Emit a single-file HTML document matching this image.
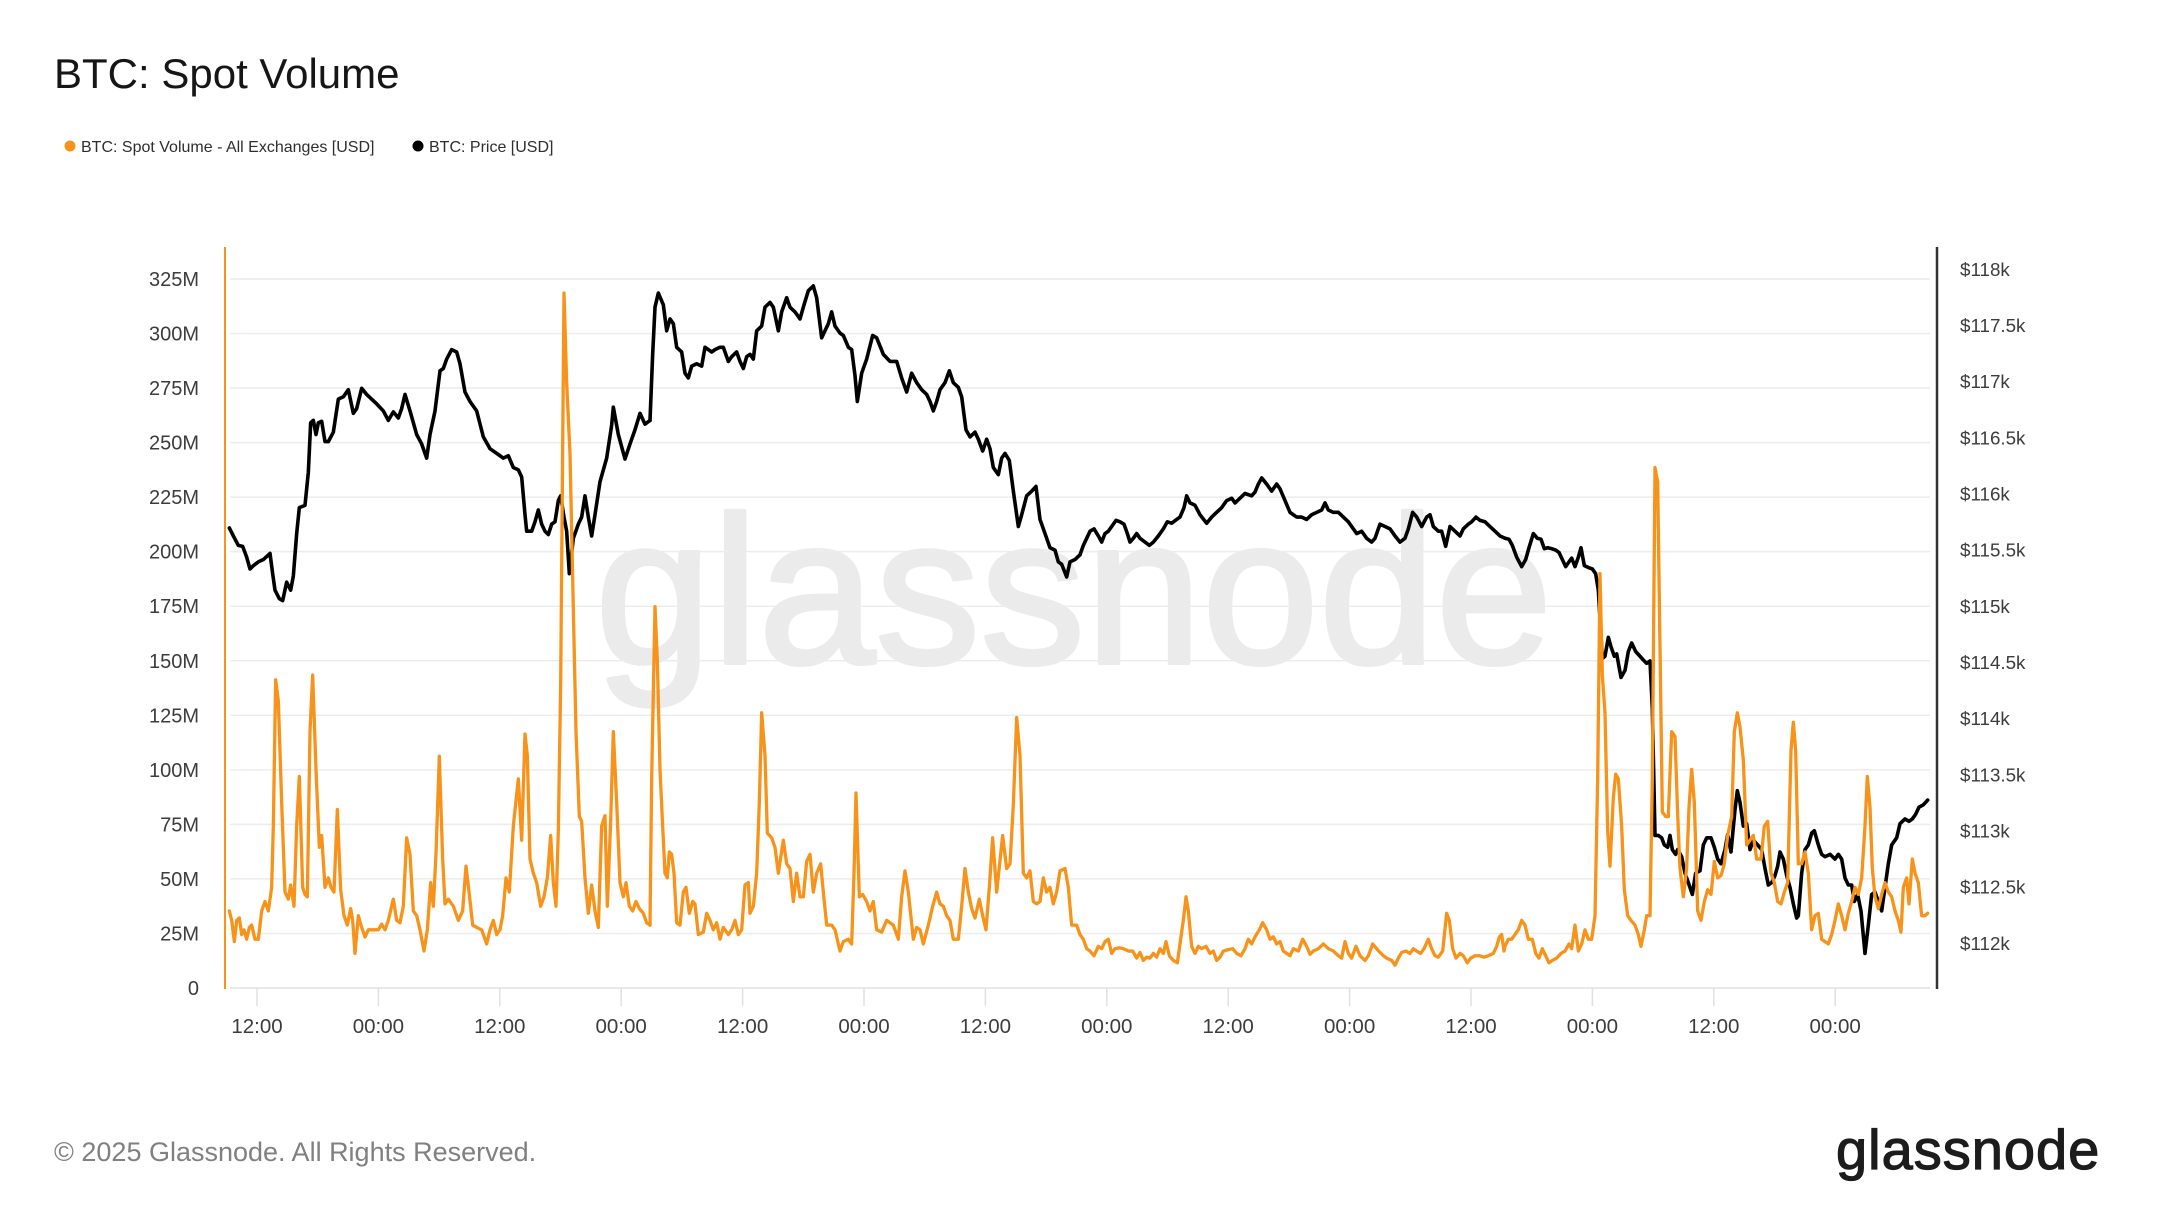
<!DOCTYPE html>
<html>
<head>
<meta charset="utf-8">
<style>
  html,body{margin:0;padding:0;background:#fff;}
  body{width:2160px;height:1215px;overflow:hidden;}
  svg{display:block;font-family:"Liberation Sans",Arial,sans-serif;}
</style>
</head>
<body>
<svg width="2160" height="1215" viewBox="0 0 2160 1215" xmlns="http://www.w3.org/2000/svg">
  <rect width="2160" height="1215" fill="#ffffff"/>

  <!-- Title -->
  <text x="54" y="88" font-size="42" fill="#161616">BTC: Spot Volume</text>

  <!-- Legend -->
  <circle cx="70" cy="146" r="5.5" fill="#f7931a"/>
  <text x="81" y="152" font-size="16" fill="#2e2e2e">BTC: Spot Volume - All Exchanges [USD]</text>
  <circle cx="418" cy="146" r="5.5" fill="#000"/>
  <text x="429" y="152" font-size="16" fill="#2e2e2e">BTC: Price [USD]</text>

  <!-- Watermark -->
  <text x="595" y="663" font-size="210" fill="#ebebeb" stroke="#ebebeb" stroke-width="4" stroke-linejoin="round">glassnode</text>

  <!-- Gridlines -->
  <g stroke="#ececec" stroke-width="1.5">
    <line x1="230" x2="1930" y1="278.98" y2="278.98"/>
    <line x1="230" x2="1930" y1="333.52" y2="333.52"/>
    <line x1="230" x2="1930" y1="388.06" y2="388.06"/>
    <line x1="230" x2="1930" y1="442.6" y2="442.6"/>
    <line x1="230" x2="1930" y1="497.14" y2="497.14"/>
    <line x1="230" x2="1930" y1="551.68" y2="551.68"/>
    <line x1="230" x2="1930" y1="606.22" y2="606.22"/>
    <line x1="230" x2="1930" y1="660.76" y2="660.76"/>
    <line x1="230" x2="1930" y1="715.3" y2="715.3"/>
    <line x1="230" x2="1930" y1="769.84" y2="769.84"/>
    <line x1="230" x2="1930" y1="824.38" y2="824.38"/>
    <line x1="230" x2="1930" y1="878.92" y2="878.92"/>
    <line x1="230" x2="1930" y1="933.46" y2="933.46"/>
  </g>
  <line x1="230" x2="1930" y1="988" y2="988" stroke="#e0e0e0" stroke-width="1.5"/>

  <!-- X ticks -->
  <g stroke="#e0e0e0" stroke-width="1.5">
    <line x1="257" x2="257" y1="988" y2="1006"/>
    <line x1="378.4" x2="378.4" y1="988" y2="1006"/>
    <line x1="499.8" x2="499.8" y1="988" y2="1006"/>
    <line x1="621.2" x2="621.2" y1="988" y2="1006"/>
    <line x1="742.6" x2="742.6" y1="988" y2="1006"/>
    <line x1="864" x2="864" y1="988" y2="1006"/>
    <line x1="985.4" x2="985.4" y1="988" y2="1006"/>
    <line x1="1106.8" x2="1106.8" y1="988" y2="1006"/>
    <line x1="1228.2" x2="1228.2" y1="988" y2="1006"/>
    <line x1="1349.6" x2="1349.6" y1="988" y2="1006"/>
    <line x1="1471" x2="1471" y1="988" y2="1006"/>
    <line x1="1592.4" x2="1592.4" y1="988" y2="1006"/>
    <line x1="1713.8" x2="1713.8" y1="988" y2="1006"/>
    <line x1="1835.2" x2="1835.2" y1="988" y2="1006"/>
  </g>

  <!-- X labels -->
  <g font-size="20.5" fill="#3c3c3c" text-anchor="middle">
    <text x="257" y="1033">12:00</text>
    <text x="378.4" y="1033">00:00</text>
    <text x="499.8" y="1033">12:00</text>
    <text x="621.2" y="1033">00:00</text>
    <text x="742.6" y="1033">12:00</text>
    <text x="864" y="1033">00:00</text>
    <text x="985.4" y="1033">12:00</text>
    <text x="1106.8" y="1033">00:00</text>
    <text x="1228.2" y="1033">12:00</text>
    <text x="1349.6" y="1033">00:00</text>
    <text x="1471" y="1033">12:00</text>
    <text x="1592.4" y="1033">00:00</text>
    <text x="1713.8" y="1033">12:00</text>
    <text x="1835.2" y="1033">00:00</text>
  </g>

  <!-- Left Y labels -->
  <g font-size="20" fill="#3c3c3c" text-anchor="end">
    <text x="199" y="286">325M</text>
    <text x="199" y="340.5">300M</text>
    <text x="199" y="395">275M</text>
    <text x="199" y="449.6">250M</text>
    <text x="199" y="504.1">225M</text>
    <text x="199" y="558.7">200M</text>
    <text x="199" y="613.2">175M</text>
    <text x="199" y="667.8">150M</text>
    <text x="199" y="722.3">125M</text>
    <text x="199" y="776.8">100M</text>
    <text x="199" y="831.4">75M</text>
    <text x="199" y="885.9">50M</text>
    <text x="199" y="940.5">25M</text>
    <text x="199" y="995">0</text>
  </g>

  <!-- Right Y labels -->
  <g font-size="18.8" fill="#3c3c3c">
    <text x="1960" y="275.8">$118k</text>
    <text x="1960" y="332">$117.5k</text>
    <text x="1960" y="388.1">$117k</text>
    <text x="1960" y="444.3">$116.5k</text>
    <text x="1960" y="500.5">$116k</text>
    <text x="1960" y="556.7">$115.5k</text>
    <text x="1960" y="612.8">$115k</text>
    <text x="1960" y="669">$114.5k</text>
    <text x="1960" y="725.2">$114k</text>
    <text x="1960" y="781.3">$113.5k</text>
    <text x="1960" y="837.5">$113k</text>
    <text x="1960" y="893.7">$112.5k</text>
    <text x="1960" y="949.8">$112k</text>
  </g>

  <!-- Axes -->
  <line x1="225" x2="225" y1="247" y2="989" stroke="#f7931a" stroke-width="2"/>
  <line x1="1937" x2="1937" y1="247" y2="989" stroke="#333" stroke-width="2.5"/>

  <!-- Price (black) -->
  <g fill="none" stroke="#000" stroke-width="3.6" stroke-linejoin="round" stroke-linecap="round">
    <polyline vector-effect="non-scaling-stroke" transform="translate(220,260) scale(0.33333,0.4717)" points="28,568 40,585 55,605 68,607 80,630 90,655 100,648 115,640 130,635 150,622 158,665 165,700 178,718 188,722 200,683 212,700 220,670 230,580 238,525 255,520 265,450 272,345 280,340 288,370 295,345 305,342 315,385 325,385 340,365 355,295 370,290 385,275 400,325 410,315 425,272 440,285 455,295 470,305 490,320 505,340 520,322 535,335 545,315 555,285 570,320 590,370 605,390 620,420 630,370 645,320 660,235 670,230 680,210 695,190 710,195 720,220 735,280 750,300 770,320 790,375 810,400 830,410 850,420 865,415 880,440 895,445 905,460 915,540 920,575 935,575 945,555 955,530 965,560 975,575 985,582 995,560 1005,555 1015,510 1022,500 1032,545 1040,575 1048,665 1060,590 1075,560 1085,545 1095,500 1105,545 1115,585 1125,540 1140,470 1160,420 1175,350 1180,312 1195,370 1215,422 1230,390 1245,360 1260,325 1275,348 1290,340"/>
    <polyline vector-effect="non-scaling-stroke" transform="translate(650,260) scale(0.33333,0.4717)" points="0,340 8,200 15,100 25,70 40,95 50,150 60,125 70,135 80,185 95,195 105,240 115,250 125,225 140,220 155,225 165,185 175,190 185,195 195,190 210,185 220,185 235,215 245,205 260,195 270,215 280,230 290,205 300,200 310,210 320,150 335,140 345,100 360,90 370,100 385,150 395,110 410,80 420,100 435,110 450,125 460,100 475,65 490,55 500,80 515,165 525,150 535,135 545,110 555,140 570,155 580,160 595,185 605,190 615,245 622,300 635,240 650,210 668,160 680,165 700,200 720,215 740,215 755,250 770,280 785,240 800,260 815,275 830,285 840,300 850,320 860,300 870,275 885,260 898,235 910,260 925,270 935,290 948,360 960,375 975,365 985,380 998,405 1010,380 1020,400 1030,440 1045,455 1055,420 1065,410 1078,425 1090,490 1105,565 1115,540 1130,500 1145,490 1158,480 1170,550 1185,580 1200,610 1215,615 1225,640 1235,645 1250,672 1260,640 1275,635 1290,625"/>
    <polyline vector-effect="non-scaling-stroke" transform="translate(1080,260) scale(0.33333,0.4717)" points="0,625 10,605 20,590 30,575 42,570 55,585 65,598 75,580 85,575 95,565 108,552 120,555 132,560 142,580 150,598 160,590 170,580 180,590 195,598 208,605 220,598 235,585 250,570 262,555 275,558 290,550 300,545 312,525 320,500 330,515 345,520 360,540 380,558 395,545 410,535 425,525 440,510 455,505 465,515 480,505 495,495 515,500 525,492 535,475 545,462 560,475 575,490 590,475 600,485 615,510 630,535 650,545 665,545 680,550 695,540 710,535 725,530 735,515 745,530 760,535 775,535 790,545 805,555 820,570 830,580 845,575 860,590 875,598 885,590 900,560 915,565 930,570 945,585 960,598 975,590 985,570 998,535 1010,545 1025,565 1040,545 1050,540 1060,565 1075,575 1085,575 1097,607 1110,565 1125,575 1140,585 1150,570 1165,560 1175,555 1188,545 1200,552 1215,555 1230,565 1245,575 1260,585 1275,590"/>
    <polyline vector-effect="non-scaling-stroke" transform="translate(1505,260) scale(0.33333,0.4717)" points="0,590 12,592 22,605 35,630 50,650 62,635 72,610 85,580 97,590 108,592 118,612 128,610 140,612 152,615 162,620 172,635 182,650 192,640 200,632 210,650 220,630 228,610 238,648 250,652 262,655 272,665 280,700 285,760 292,845 300,840 310,800 318,820 328,840 335,835 348,885 360,870 370,830 380,812 392,830 405,840 415,848 425,855 435,850 442,950 450,1220 460,1220 470,1225 478,1240 488,1245 495,1220 502,1250 512,1260 518,1250 530,1265 540,1300 550,1320 562,1345 572,1300 585,1295 595,1240 605,1225 618,1225 628,1245 638,1270 648,1280 660,1250 668,1218 678,1255 690,1165 697,1125 705,1150 715,1200 725,1195 735,1250 745,1230 758,1240 770,1250 780,1290 790,1325 800,1320 810,1305 818,1285 825,1255 835,1270 845,1305 855,1330 865,1365 875,1395 880,1390 890,1300 900,1250 910,1240 920,1215 928,1210 940,1240 950,1260 960,1265 975,1260 990,1270 1000,1260 1010,1270 1020,1310 1030,1325 1040,1325 1048,1360 1058,1345 1068,1380 1080,1470 1090,1410 1100,1345 1110,1340 1120,1360 1130,1380 1140,1330 1150,1280 1160,1240 1175,1225 1185,1195 1200,1185 1212,1190 1222,1185 1232,1175 1242,1160 1255,1155 1268,1145"/>
  </g>

  <!-- Volume (orange) -->
  <g fill="none" stroke="#f7931a" stroke-width="3.3" stroke-linejoin="round" stroke-linecap="round">
    <polyline vector-effect="non-scaling-stroke" transform="translate(220,260) scale(0.33333,0.4717)" points="28,1380 35,1400 43,1445 50,1400 58,1395 65,1430 72,1420 80,1440 88,1415 95,1410 105,1440 115,1440 125,1380 135,1360 145,1380 155,1330 160,1200 167,890 175,935 185,1150 195,1340 205,1355 212,1325 222,1370 230,1200 238,1095 248,1330 255,1345 262,1350 270,1000 278,880 288,1080 298,1245 305,1220 315,1330 325,1310 333,1330 342,1340 352,1165 362,1335 372,1390 382,1410 392,1375 398,1400 405,1470 415,1390 425,1415 435,1435 445,1420 460,1420 475,1420 485,1408 495,1420 505,1400 520,1355 530,1400 540,1405 550,1370 560,1225 570,1260 580,1380 590,1390 600,1420 612,1465 622,1420 632,1320 640,1370 648,1260 658,1052 668,1270 675,1365 685,1355 700,1370 715,1400 728,1380 738,1285 748,1345 758,1410 770,1415 785,1420 800,1450 810,1420 820,1400 830,1430 840,1420 848,1390 858,1310 868,1340 880,1200 895,1100 905,1230 915,1005 922,1050 930,1270 940,1300 950,1320 962,1370 972,1350 982,1310 992,1220 1000,1320 1008,1370 1015,1210 1022,900 1032,70 1040,260 1050,410 1060,740 1068,1000 1078,1180 1085,1190 1095,1310 1105,1385 1115,1325 1125,1380 1135,1415 1145,1200 1155,1178 1162,1370 1172,1190 1180,1000 1190,1150 1200,1320 1210,1350 1218,1320 1228,1370 1238,1380 1248,1360 1258,1375 1270,1385 1280,1405 1290,1410"/>
    <polyline vector-effect="non-scaling-stroke" transform="translate(650,260) scale(0.33333,0.4717)" points="0,1410 5,1100 15,735 22,850 30,1080 38,1200 45,1300 52,1310 58,1255 65,1260 72,1300 80,1405 90,1410 100,1340 108,1330 118,1385 128,1360 135,1365 145,1430 160,1425 170,1385 180,1400 190,1420 200,1405 210,1440 220,1415 235,1430 245,1420 255,1400 265,1430 275,1420 285,1325 295,1320 300,1385 310,1370 320,1300 328,1150 335,960 345,1050 352,1215 365,1225 375,1245 385,1300 400,1230 410,1280 420,1290 430,1360 440,1300 450,1350 460,1350 470,1275 480,1260 490,1340 500,1300 512,1280 520,1340 530,1410 545,1410 555,1420 570,1465 580,1445 595,1440 605,1450 612,1300 618,1130 628,1350 638,1345 650,1360 660,1380 670,1360 680,1420 695,1425 710,1400 730,1410 745,1440 755,1350 765,1295 775,1340 790,1440 800,1415 810,1420 820,1450 835,1410 848,1370 860,1340 870,1365 880,1370 890,1390 900,1400 910,1440 925,1440 935,1370 945,1290 955,1340 965,1375 975,1395 988,1355 998,1390 1008,1420 1018,1330 1028,1225 1040,1340 1058,1220 1070,1290 1080,1280 1090,1155 1100,970 1110,1050 1120,1300 1130,1310 1140,1295 1150,1360 1160,1365 1170,1360 1180,1310 1190,1340 1200,1330 1210,1365 1220,1340 1230,1295 1245,1290 1255,1330 1265,1410 1280,1410 1290,1430"/>
    <polyline vector-effect="non-scaling-stroke" transform="translate(1080,260) scale(0.33333,0.4717)" points="0,1430 10,1440 20,1460 30,1465 42,1475 55,1455 65,1460 75,1445 85,1440 95,1470 105,1460 118,1458 130,1460 145,1465 158,1465 170,1480 180,1468 190,1485 200,1478 210,1480 220,1470 230,1478 240,1460 250,1470 258,1445 268,1475 280,1485 292,1490 300,1450 310,1400 318,1350 325,1380 335,1455 345,1470 355,1455 365,1460 378,1455 390,1470 400,1465 410,1485 420,1478 430,1465 445,1462 458,1460 470,1470 483,1475 495,1460 505,1440 515,1450 525,1435 538,1420 548,1405 560,1420 570,1440 580,1435 590,1450 600,1445 610,1465 620,1470 630,1475 640,1460 655,1465 668,1440 680,1455 690,1472 700,1465 715,1460 730,1450 745,1460 760,1465 775,1475 785,1480 795,1445 805,1470 815,1480 828,1455 840,1475 855,1485 865,1475 878,1450 890,1460 900,1468 910,1475 920,1480 935,1485 945,1495 955,1480 965,1468 978,1465 990,1470 1000,1460 1010,1465 1022,1470 1032,1460 1045,1440 1055,1460 1065,1475 1075,1478 1088,1465 1100,1385 1108,1400 1118,1460 1128,1480 1140,1470 1150,1475 1162,1490 1172,1480 1185,1475 1198,1475 1212,1478 1225,1475 1240,1470 1250,1455 1258,1435 1265,1430 1272,1465 1275,1455"/>
    <polyline vector-effect="non-scaling-stroke" transform="translate(1505,260) scale(0.33333,0.4717)" points="0,1455 10,1440 20,1440 30,1430 40,1420 50,1400 60,1410 70,1440 82,1440 92,1470 102,1480 112,1460 122,1475 132,1490 142,1485 155,1480 168,1470 180,1465 192,1450 200,1460 210,1410 220,1465 230,1450 240,1420 250,1440 260,1440 270,1390 278,1100 285,665 292,880 300,960 308,1210 315,1285 325,1140 332,1090 340,1100 350,1200 358,1335 368,1390 378,1400 390,1410 400,1430 408,1455 418,1420 425,1390 435,1390 442,1100 450,440 458,470 465,820 472,1170 482,1180 490,1180 500,1000 510,1010 518,1175 525,1290 535,1350 545,1290 552,1160 560,1080 568,1150 578,1380 588,1400 598,1360 608,1335 618,1345 628,1275 638,1310 648,1305 658,1280 668,1220 680,1180 688,1000 697,960 705,990 715,1060 725,1240 735,1230 745,1220 755,1270 768,1270 778,1200 788,1190 798,1300 808,1320 818,1360 828,1365 838,1340 848,1320 858,1040 865,980 872,1040 880,1280 890,1280 900,1255 910,1300 920,1420 930,1390 940,1385 950,1440 960,1445 970,1450 980,1430 990,1400 1000,1365 1010,1390 1020,1420 1030,1385 1040,1360 1050,1330 1060,1345 1070,1310 1080,1200 1087,1095 1095,1160 1102,1290 1110,1350 1120,1375 1130,1345 1140,1320 1150,1340 1160,1350 1170,1380 1180,1400 1188,1425 1195,1330 1205,1310 1212,1365 1222,1270 1230,1300 1240,1320 1250,1390 1260,1390 1268,1385"/>
  </g>

  <!-- Footer -->
  <text x="54" y="1161" font-size="27" fill="#808080">© 2025 Glassnode. All Rights Reserved.</text>
  <text x="1836" y="1169" font-size="56" fill="#1c1c1c" letter-spacing="1" stroke="#1c1c1c" stroke-width="1.2">glassnode</text>
</svg>
</body>
</html>
